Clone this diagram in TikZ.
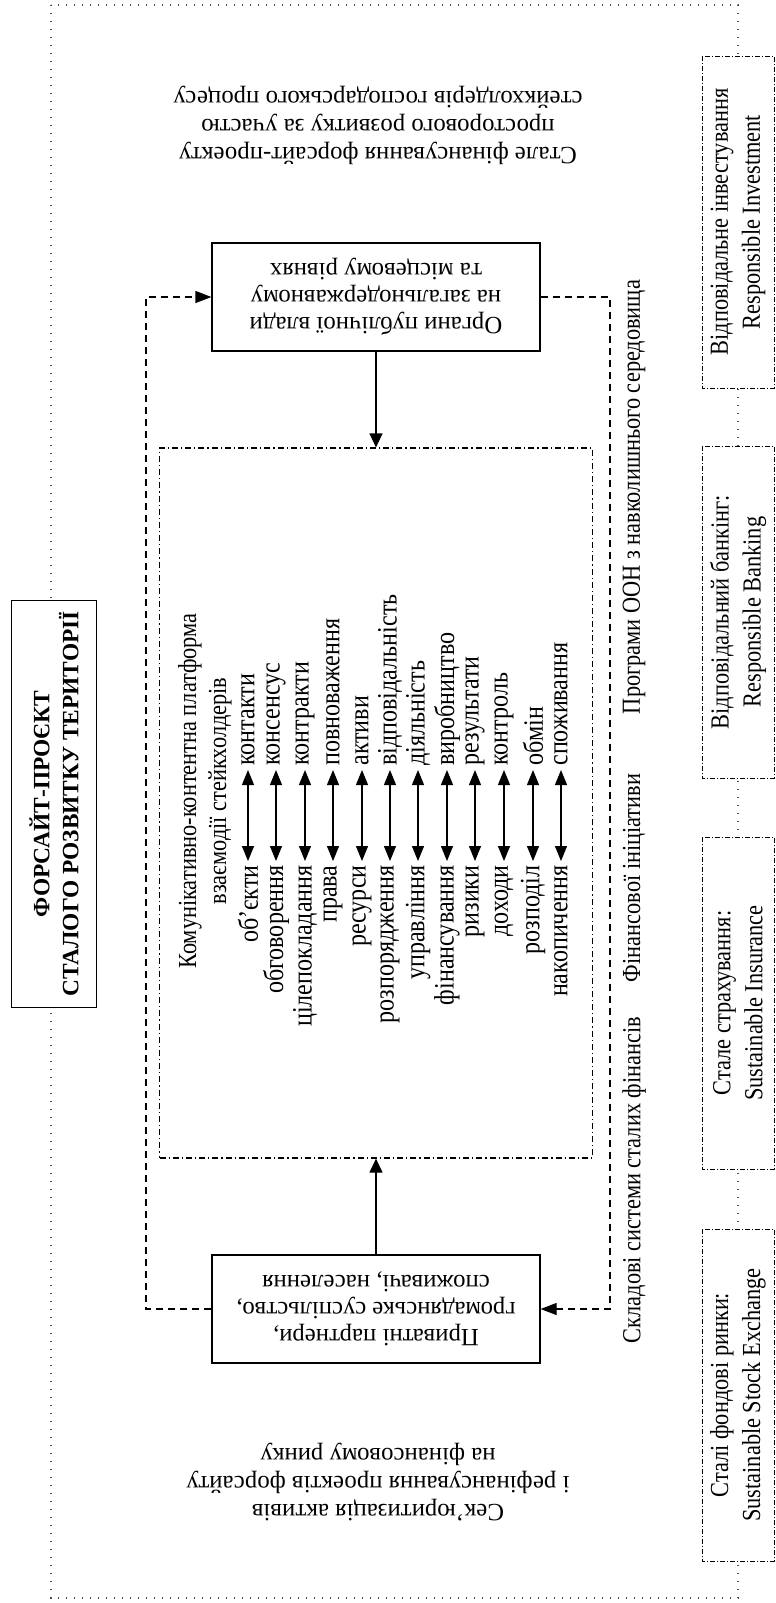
\documentclass[tikz,border=0pt]{standalone}
\usepackage{fontspec}
\setmainfont{Liberation Serif}
\newfontfamily\narrowfont[FakeStretch=0.86]{Liberation Serif}
\usepackage{tikz}
\usetikzlibrary{positioning}
\usetikzlibrary{arrows.meta}

\begin{document}
\begin{tikzpicture}
  [
    x=0.5pt, y=-0.5pt,
    outline/.style={draw=black!70, line width=0.6pt, dash pattern=on 0.6pt off 3.4pt},
    heading/.style={draw=black, fill=white, line width=0.6pt, rotate=90,
      minimum width=203.5pt, minimum height=42.5pt, align=center,
      font=\bfseries\fontsize{11.7}{14.5}\selectfont},
    actor/.style={draw=black, fill=white, line width=0.6pt, rotate=180,
      minimum width=164pt, minimum height=54pt, align=center,
      font=\fontsize{12.4}{13.5}\selectfont},
    note/.style={rotate=180, align=center, font=\fontsize{12.4}{14}\selectfont},
    fund/.style={draw=black, fill=white, line width=0.5pt, rotate=90,
      dash pattern=on 2.5pt off 1pt on 0.5pt off 1pt,
      minimum width=166pt, minimum height=36pt, align=center,
      font=\narrowfont\fontsize{13}{16}\selectfont},
    frame/.style={draw=black, line width=0.6pt, minimum width=216.5pt, minimum height=355pt,
      dash pattern=on 3pt off 1.5pt on 0.6pt off 1.5pt},
    pair/.style={rotate=90, inner sep=2pt, font=\narrowfont\fontsize{14}{15}\selectfont},
    label/.style={rotate=90, inner sep=0pt, font=\narrowfont\fontsize{13}{14}\selectfont},
    dbl/.style={{Triangle[length=7.5pt,width=6pt]}-{Triangle[length=7.5pt,width=6pt]}, line width=0.6pt},
    ld/.style={-{Triangle[length=7pt,width=6.5pt]}, line width=0.6pt},
    flow/.style={-{Triangle[length=8pt,width=6pt]}, line width=0.6pt,
      dash pattern=on 3.5pt off 2.5pt}
  ]
  \useasboundingbox (0,0) rectangle (776,1603);

  \draw [outline] (51,5) rectangle (738,1598);

  \node (title) at (54,804) [heading]
    {ФОРСАЙТ-ПРОЄКТ\\СТАЛОГО РОЗВИТКУ ТЕРИТОРІЇ};

  \node (top) at (378,125) [note]
    {Стале фінансування форсайт-проекту\\просторового розвитку за участю\\стейкхолдерів господарського процесу};
  \node (bottom) at (378,1482) [note]
    {Сек’юритизація активів\\і рефінансування проектів форсайту\\на фінансовому ринку};

  \node (organy)   at (376,297)  [actor]
    {Органи публічної влади\\на загальнодержавному\\та місцевому рівнях};
  \node (pryvatni) at (376,1309) [actor]
    {Приватні партнери,\\громадянське суспільство,\\споживачі, населення};

  \node (platform) at (376,803) [frame] {};
  \node (header1) at (190,791) [label] {Комунікативно-контентна платформа};
  \node (header2) at (220,791) [label] {взаємодії стейкхолдерів};

  \node (l1)  at (248,861) [pair, anchor=east] {об’єкти};
  \node (l2)  at (276,861) [pair, anchor=east] {обговорення};
  \node (l3)  at (305,861) [pair, anchor=east] {цілепокладання};
  \node (l4)  at (333,861) [pair, anchor=east] {права};
  \node (l5)  at (362,861) [pair, anchor=east] {ресурси};
  \node (l6)  at (390,861) [pair, anchor=east] {розпорядження};
  \node (l7)  at (418,861) [pair, anchor=east] {управління};
  \node (l8)  at (447,861) [pair, anchor=east] {фінансування};
  \node (l9)  at (475,861) [pair, anchor=east] {ризики};
  \node (l10) at (504,861) [pair, anchor=east] {доходи};
  \node (l11) at (533,861) [pair, anchor=east] {розподіл};
  \node (l12) at (561,861) [pair, anchor=east] {накопичення};

  \node (r1)  at (248,770) [pair, anchor=west] {контакти};
  \node (r2)  at (276,770) [pair, anchor=west] {консенсус};
  \node (r3)  at (305,770) [pair, anchor=west] {контракти};
  \node (r4)  at (333,770) [pair, anchor=west] {повноваження};
  \node (r5)  at (362,770) [pair, anchor=west] {активи};
  \node (r6)  at (390,770) [pair, anchor=west] {відповідальність};
  \node (r7)  at (418,770) [pair, anchor=west] {діяльність};
  \node (r8)  at (447,770) [pair, anchor=west] {виробництво};
  \node (r9)  at (475,770) [pair, anchor=west] {результати};
  \node (r10) at (504,770) [pair, anchor=west] {контроль};
  \node (r11) at (533,770) [pair, anchor=west] {обмін};
  \node (r12) at (561,770) [pair, anchor=west] {споживання};

  \draw [dbl] (l1)  -- (r1);
  \draw [dbl] (l2)  -- (r2);
  \draw [dbl] (l3)  -- (r3);
  \draw [dbl] (l4)  -- (r4);
  \draw [dbl] (l5)  -- (r5);
  \draw [dbl] (l6)  -- (r6);
  \draw [dbl] (l7)  -- (r7);
  \draw [dbl] (l8)  -- (r8);
  \draw [dbl] (l9)  -- (r9);
  \draw [dbl] (l10) -- (r10);
  \draw [dbl] (l11) -- (r11);
  \draw [dbl] (l12) -- (r12);

  \draw [ld] (organy) -- (platform);
  \draw [ld] (pryvatni) -- (platform);

  \coordinate (leftlane)  at (146,0);
  \coordinate (rightlane) at (610,0);
  \draw [flow] (pryvatni.east) -- (pryvatni.east -| leftlane)
    -- (organy.east -| leftlane) -- (organy.east);
  \draw [flow] (organy.west) -- (organy.west -| rightlane)
    -- (pryvatni.west -| rightlane) -- (pryvatni.west);

  \node (sklad)  at (634,1180) [label] {Складові системи сталих фінансів};
  \node (inic)   at (634,878)  [label] {Фінансової ініціативи};
  \node (oon)    at (634,497)  [label] {Програми ООН з навколишнього середовища};

  \node (invest) at (738,222)  [fund] {Відповідальне інвестування\\Responsible Investment};
  \node (bank)   at (738,612)  [fund] {Відповідальний банкінг:\\Responsible Banking};
  \node (insur)  at (738,1003) [fund] {Стале страхування:\\Sustainable Insurance};
  \node (stock)  at (738,1395) [fund] {Сталі фондові ринки:\\Sustainable Stock Exchange};
\end{tikzpicture}
\end{document}
